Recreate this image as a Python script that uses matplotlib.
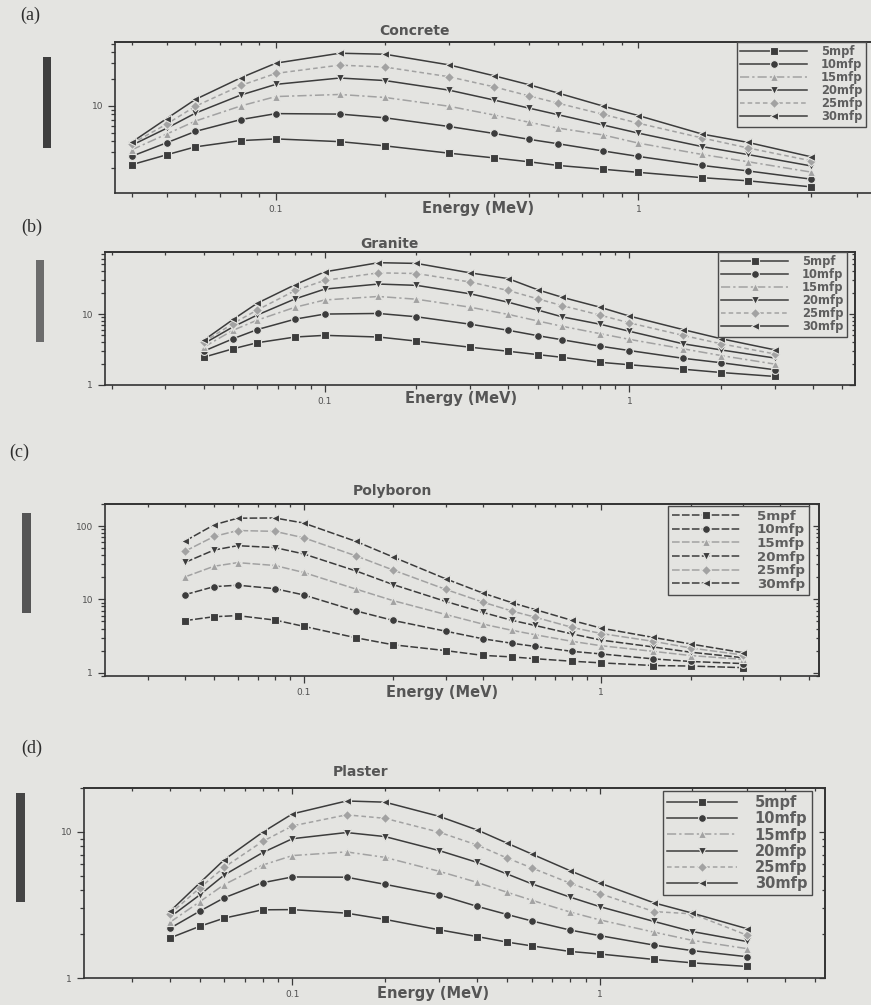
import matplotlib
matplotlib.use('Agg')
import matplotlib.pyplot as plt
from matplotlib.ticker import FixedLocator, FixedFormatter, LogLocator, NullFormatter
from matplotlib.patches import Rectangle

# photon energies (MeV), same grid in every panel
energy = [0.04, 0.05, 0.06, 0.08, 0.1, 0.15, 0.2, 0.3, 0.4, 0.5, 0.6, 0.8, 1, 1.5, 2, 3]
depth_labels = ['5mpf', '10mfp', '15mfp', '20mfp', '25mfp', '30mfp']

# (a) Concrete
concrete_5 = [2.18, 2.82, 3.46, 4.07, 4.25, 3.96, 3.55, 2.94, 2.6, 2.35, 2.14, 1.94, 1.79, 1.56, 1.44, 1.23]
concrete_10 = [2.71, 3.85, 5.16, 7.0, 8.17, 8.07, 7.33, 5.86, 4.89, 4.2, 3.75, 3.11, 2.7, 2.14, 1.86, 1.5]
concrete_15 = [3.2, 4.82, 6.74, 9.96, 12.7, 13.4, 12.4, 9.89, 7.87, 6.53, 5.62, 4.7, 3.81, 2.84, 2.36, 1.8]
concrete_20 = [3.6, 5.6, 8.28, 13.2, 17.4, 20.5, 19.2, 15.0, 11.6, 9.4, 7.94, 6.08, 4.93, 3.48, 2.84, 2.11]
concrete_25 = [3.75, 6.24, 9.89, 16.9, 23.1, 28.6, 27.2, 21.2, 16.3, 12.9, 10.7, 8.0, 6.37, 4.35, 3.37, 2.41]
concrete_30 = [3.89, 7.19, 11.8, 20.6, 30.1, 38.9, 37.9, 28.8, 21.7, 17.2, 13.9, 9.91, 7.76, 4.81, 3.89, 2.67]

# (b) Granite
granite_5 = [2.46, 3.24, 3.94, 4.75, 5.01, 4.75, 4.16, 3.41, 2.99, 2.68, 2.46, 2.09, 1.93, 1.67, 1.5, 1.32]
granite_10 = [2.99, 4.49, 6.04, 8.49, 10.0, 10.2, 9.16, 7.2, 5.91, 4.96, 4.35, 3.53, 3.06, 2.38, 2.06, 1.64]
granite_15 = [3.41, 5.91, 8.2, 12.5, 15.8, 17.7, 16.2, 12.5, 9.9, 8.0, 6.74, 5.3, 4.4, 3.24, 2.6, 1.97]
granite_20 = [3.81, 6.6, 9.68, 16.4, 22.5, 26.5, 25.4, 19.3, 14.7, 11.4, 9.16, 7.2, 5.72, 3.81, 3.12, 2.4]
granite_25 = [4.02, 7.36, 11.4, 21.5, 29.9, 38.1, 37.3, 28.3, 21.5, 16.4, 13.2, 9.68, 7.52, 5.0, 3.81, 2.74]
granite_30 = [4.25, 8.39, 14.2, 26.0, 39.4, 53.0, 51.8, 38.1, 31.6, 22.0, 17.3, 12.5, 9.36, 6.04, 4.49, 3.13]

# (c) Polyboron
polyboron_5 = [5.13, 5.8, 6.0, 5.22, 4.29, 2.99, 2.4, 2.0, 1.72, 1.64, 1.55, 1.43, 1.36, 1.25, 1.23, 1.17]
polyboron_10 = [11.6, 14.9, 15.6, 14.0, 11.5, 6.95, 5.16, 3.68, 2.9, 2.52, 2.28, 1.95, 1.8, 1.54, 1.42, 1.33]
polyboron_15 = [20.3, 28.3, 31.7, 29.0, 23.3, 13.8, 9.6, 6.22, 4.6, 3.79, 3.29, 2.67, 2.33, 1.95, 1.71, 1.52]
polyboron_20 = [32.0, 47.1, 54.0, 50.9, 41.7, 24.4, 15.9, 9.38, 6.64, 5.19, 4.4, 3.37, 2.78, 2.24, 1.9, 1.6]
polyboron_25 = [45.5, 72.1, 86.9, 84.7, 69.3, 39.2, 25.1, 13.7, 9.18, 6.95, 5.71, 4.14, 3.42, 2.67, 2.17, 1.74]
polyboron_30 = [62.7, 104, 128, 129, 110, 61.7, 37.8, 19.1, 12.2, 9.04, 7.26, 5.15, 4.05, 3.02, 2.46, 1.87]

# (d) Plaster
plaster_5 = [1.88, 2.26, 2.57, 2.93, 2.94, 2.78, 2.52, 2.14, 1.92, 1.76, 1.66, 1.52, 1.46, 1.34, 1.27, 1.2]
plaster_10 = [2.19, 2.87, 3.54, 4.49, 4.92, 4.9, 4.38, 3.71, 3.09, 2.72, 2.46, 2.13, 1.95, 1.68, 1.54, 1.4]
plaster_15 = [2.41, 3.33, 4.36, 5.93, 6.89, 7.3, 6.7, 5.38, 4.51, 3.86, 3.41, 2.83, 2.5, 2.06, 1.81, 1.59]
plaster_20 = [2.61, 3.71, 5.07, 7.22, 8.99, 9.91, 9.3, 7.46, 6.18, 5.15, 4.42, 3.58, 3.08, 2.44, 2.08, 1.78]
plaster_25 = [2.75, 4.14, 5.73, 8.61, 11.0, 13.1, 12.4, 9.97, 8.12, 6.62, 5.68, 4.46, 3.78, 2.85, 2.75, 1.97]
plaster_30 = [2.86, 4.48, 6.45, 9.95, 13.3, 16.3, 16.0, 12.8, 10.3, 8.37, 7.07, 5.43, 4.47, 3.27, 2.78, 2.18]

W, H = 871, 1005
bg = '#e4e4e1'
dark = '#3c3c3c'
light = '#a2a2a2'
markers = ['s', 'o', '^', 'v', 'D', '<']
colors = [dark, dark, light, dark, light, dark]
plain_styles = ['-', '-', (0, (6, 2, 1.5, 2)), '-', (0, (3, 2)), '-']
dash_styles = [(0, (5, 1.5))] * 6
minor_subs = [2, 3, 4, 5, 6, 7, 8, 9]

fig = plt.figure(figsize=(W / 100, H / 100), dpi=100, facecolor=bg)


def fig_text(x, y, s, **kw):
    # place text using pixel coords of the reference page
    fig.text(x / W, 1 - y / H, s, **kw)


def panel(box, series, xlim, ylim, yticks, styles, leg_xy, leg_fs, leg_hl, leg_ls):
    left, top, right, bottom = box
    ax = fig.add_axes([left / W, 1 - bottom / H, (right - left) / W, (bottom - top) / H])
    ax.set_facecolor(bg)
    for ys, lab, m, c, ls in zip(series, depth_labels, markers, colors, styles):
        ax.plot(energy, ys, linestyle=ls, color=c, linewidth=1.1, marker=m,
                markersize=5.6, markerfacecolor=c, markeredgecolor=bg,
                markeredgewidth=0.8, label=lab)
    ax.set_xscale('log')
    ax.set_yscale('log')
    ax.set_xlim(*xlim)
    ax.set_ylim(*ylim)
    ax.xaxis.set_major_locator(FixedLocator([0.1, 1]))
    ax.xaxis.set_major_formatter(FixedFormatter(['0.1', '1']))
    ax.xaxis.set_minor_locator(LogLocator(base=10, subs=minor_subs, numticks=20))
    ax.xaxis.set_minor_formatter(NullFormatter())
    ax.yaxis.set_major_locator(FixedLocator(yticks))
    ax.yaxis.set_major_formatter(FixedFormatter([('%g' % t) for t in yticks]))
    ax.yaxis.set_minor_locator(LogLocator(base=10, subs=minor_subs, numticks=20))
    ax.yaxis.set_minor_formatter(NullFormatter())
    ax.tick_params(which='both', direction='out', colors='#3a3a3a', labelcolor='#505050',
                   labelsize=6.5, width=0.9)
    ax.tick_params(which='major', length=5)
    ax.tick_params(which='minor', length=2.8)
    for sp in ax.spines.values():
        sp.set_color('#333333')
        sp.set_linewidth(1.2)

    # inner ticks on top and right, as in the Origin plot
    sx = ax.secondary_xaxis('top')
    sx.xaxis.set_major_locator(FixedLocator([0.1, 1]))
    sx.xaxis.set_minor_locator(LogLocator(base=10, subs=minor_subs, numticks=20))
    sx.xaxis.set_major_formatter(NullFormatter())
    sx.xaxis.set_minor_formatter(NullFormatter())
    sy = ax.secondary_yaxis('right')
    sy.yaxis.set_major_locator(FixedLocator(yticks))
    sy.yaxis.set_minor_locator(LogLocator(base=10, subs=minor_subs, numticks=20))
    sy.yaxis.set_major_formatter(NullFormatter())
    sy.yaxis.set_minor_formatter(NullFormatter())
    for s in (sx, sy):
        s.tick_params(which='both', direction='in', colors='#3a3a3a', width=0.9)
        s.tick_params(which='major', length=4)
        s.tick_params(which='minor', length=2.2)
        for sp in s.spines.values():
            sp.set_color('#333333')
            sp.set_linewidth(1.2)

    leg = ax.legend(loc='upper right', bbox_to_anchor=leg_xy, fontsize=leg_fs,
                    frameon=True, fancybox=False, edgecolor='#4a4a4a', facecolor=bg,
                    framealpha=1, handlelength=leg_hl, handletextpad=1.2,
                    labelspacing=leg_ls, borderpad=0.3, borderaxespad=0,
                    numpoints=1)
    leg.get_frame().set_linewidth(1.0)
    for t in leg.get_texts():
        t.set_color('#5e5e5e')
        t.set_fontweight('bold')
    return ax


title_kw = dict(ha='center', va='center', fontsize=10, fontweight='bold', color='#555555')
xlab_kw = dict(ha='center', va='center', fontsize=10.5, fontweight='bold', color='#555555')
tag_kw = dict(ha='center', va='center', fontsize=13, family='Liberation Serif', color='#2e2e2e')

# (a) Concrete
panel((115, 42, 904, 193),
      [concrete_5, concrete_10, concrete_15, concrete_20, concrete_25, concrete_30],
      (0.036, 5.4), (1.05, 52), [10], plain_styles, (0.952, 1.0), 8.3, 5.8, 0.0)
fig_text(414, 31, 'Concrete', **title_kw)
fig_text(478, 208, 'Energy (MeV)', **xlab_kw)
fig_text(30, 15, '(a)', **tag_kw)

# (b) Granite
panel((105, 252, 855, 385),
      [granite_5, granite_10, granite_15, granite_20, granite_25, granite_30],
      (0.019, 5.5), (1, 75), [1, 10], plain_styles, (0.989, 1.0), 8.3, 5.8, 0.0)
fig_text(389, 244, 'Granite', **title_kw)
fig_text(461, 398, 'Energy (MeV)', **xlab_kw)
fig_text(32, 227, '(b)', **tag_kw)

# (c) Polyboron
panel((105, 504, 819, 676),
      [polyboron_5, polyboron_10, polyboron_15, polyboron_20, polyboron_25, polyboron_30],
      (0.0215, 5.4), (0.9, 200), [1, 10, 100], dash_styles, (0.986, 0.99), 9.6, 5.2, 0.05)
fig_text(392, 491, 'Polyboron', **title_kw)
fig_text(442, 692, 'Energy (MeV)', **xlab_kw)
fig_text(19, 452, '(c)', **tag_kw)

# (d) Plaster
panel((84, 788, 825, 978),
      [plaster_5, plaster_10, plaster_15, plaster_20, plaster_25, plaster_30],
      (0.021, 5.4), (1, 20), [1, 10], plain_styles, (0.982, 0.985), 10.5, 4.8, 0.08)
fig_text(361, 772, 'Plaster', **title_kw)
fig_text(433, 993, 'Energy (MeV)', **xlab_kw)
fig_text(32, 748, '(d)', **tag_kw)

# the y-axis titles print as solid dark bars on the page
for x0, y0, x1, y1, c in [(43, 57, 51, 148, '#3e3e3e'), (36, 260, 44, 342, '#6c6c6c'),
                          (22, 513, 31, 613, '#555555'), (16, 793, 25, 902, '#454545')]:
    fig.add_artist(Rectangle((x0 / W, 1 - y1 / H), (x1 - x0) / W, (y1 - y0) / H,
                             transform=fig.transFigure, facecolor=c, edgecolor='none'))

fig.savefig('out.png', dpi=100, facecolor=bg)
